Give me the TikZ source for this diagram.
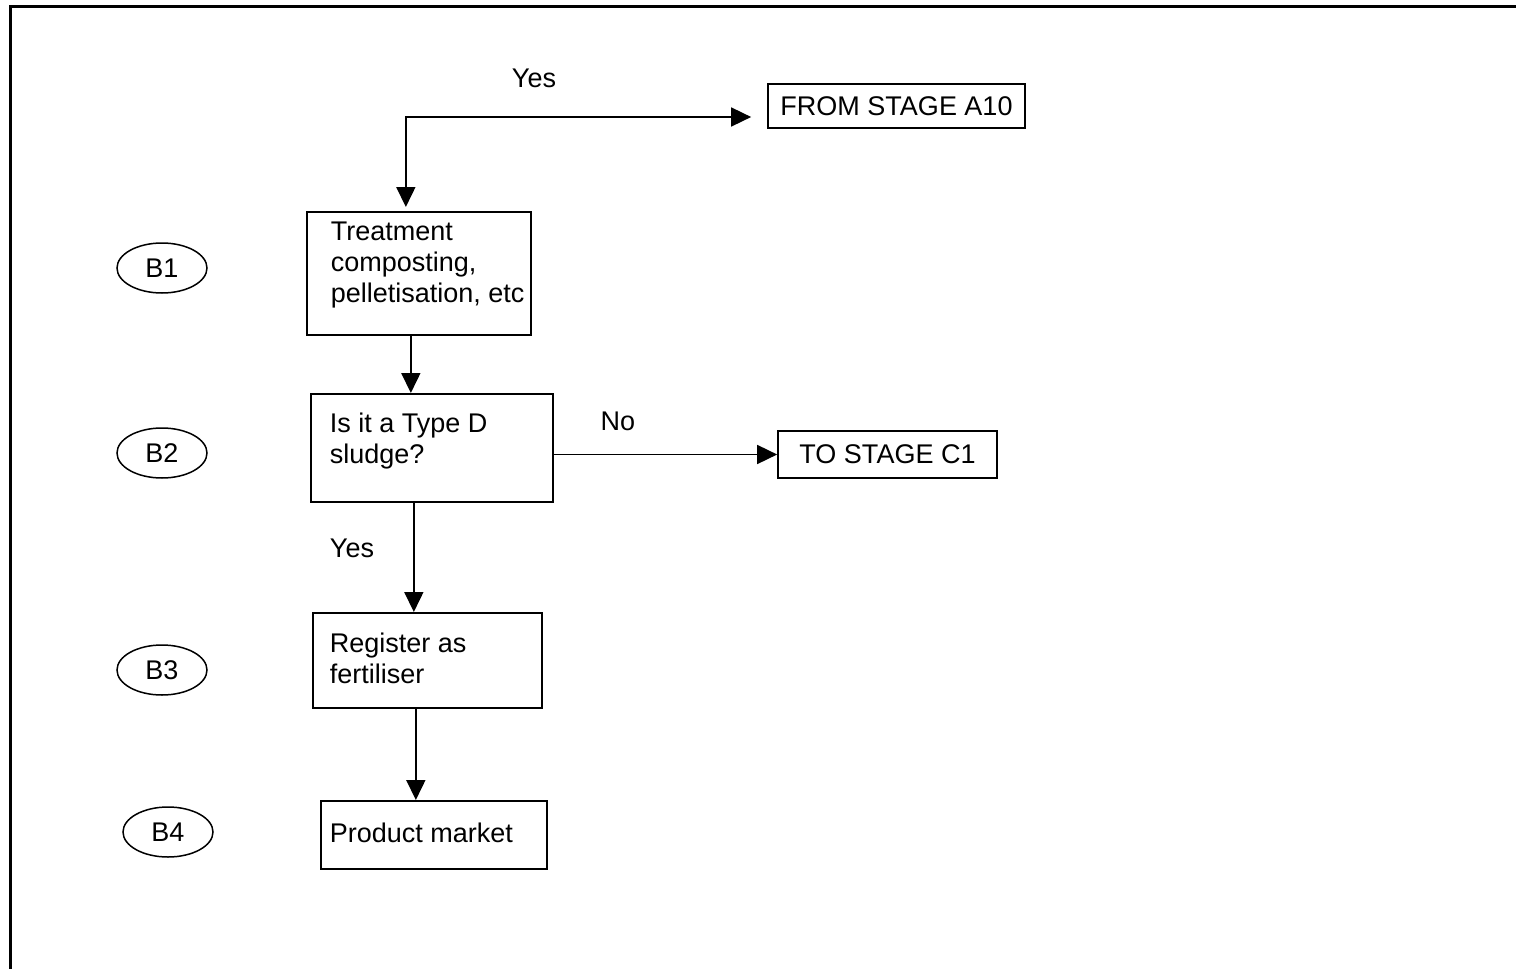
\documentclass[tikz,border=0pt]{standalone}
\usepackage{fontspec}
\setmainfont{Liberation Sans}
\usetikzlibrary{arrows.meta,shapes.geometric}
\newcommand{\boxtxt}[5]{\parbox[b][#2][t]{#1}{\vspace*{#4}\leftskip=#3\relax\noindent\strut #5}}
\begin{document}
\begin{tikzpicture}[x=1pt,y=-1pt,
  every node/.style={font=\fontsize{27}{31}\selectfont},
  box/.style={draw, line width=1.7pt, inner sep=0pt, anchor=north west},
  sbox/.style={draw, line width=1.7pt, inner sep=0pt},
  stage/.style={draw, ellipse, line width=1.5pt, minimum width=90pt, minimum height=50pt, inner sep=0pt},
  arr/.style={line width=1.7pt, -{Triangle[length=20pt,width=19pt]}},
  darr/.style={line width=1.7pt, {Triangle[length=20pt,width=19pt]}-{Triangle[length=20pt,width=19pt]}}]
\useasboundingbox (0,0) rectangle (1516,969);
\draw[line width=3pt] (10,969) -- (10,6) -- (1516,6);

\node[sbox, minimum width=257pt, minimum height=44pt] (from) at (896.5,106) {FROM STAGE A10};
\node[sbox, minimum width=219pt, minimum height=47pt] (c1) at (887.5,454.5) {TO STAGE C1};

\node[box] (treat) at (306,211) {\boxtxt{224pt}{123pt}{24pt}{7pt}{Treatment\\composting,\\pelletisation, etc}};
\node[box] (isit) at (310,393) {\boxtxt{242pt}{108pt}{19pt}{17pt}{Is it a Type D\\sludge?}};
\node[box] (reg) at (312,612) {\boxtxt{229pt}{95pt}{17pt}{18pt}{Register as\\fertiliser}};
\node[box] (prod) at (320,800) {\boxtxt{226pt}{68pt}{9pt}{20pt}{Product market}};

\node[stage] (b1) at (162,268) {B1};
\node[stage] (b2) at (162,453) {B2};
\node[stage] (b3) at (162,670) {B3};
\node[stage] (b4) at (168,832) {B4};

\node (yes1) at (534,78) {Yes};
\node (no) at (618,421) {No};
\node (yes2) at (352,548) {Yes};

\coordinate (fa) at ([xshift=-16pt,yshift=-11pt]from.west);
\coordinate (fb) at ([xshift=-13pt,yshift=4pt]treat.north);
\draw[darr] (fa) -| (fb);

\coordinate (t1) at ([xshift=-8pt]treat.south);
\draw[arr] (t1) -- (t1 |- isit.north);

\draw[arr] (isit.east |- c1.west) -- (c1.west);

\coordinate (t2) at ([xshift=-18pt]isit.south);
\draw[arr] (t2) -- (t2 |- reg.north);

\coordinate (t3) at ([xshift=-11.5pt]reg.south);
\draw[arr] (t3) -- (t3 |- prod.north);
\end{tikzpicture}
\end{document}
